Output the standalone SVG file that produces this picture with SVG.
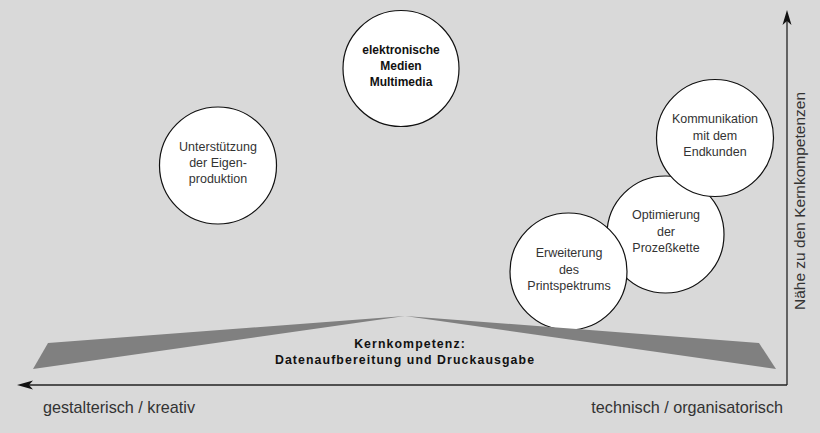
<svg xmlns="http://www.w3.org/2000/svg" width="820" height="433" viewBox="0 0 820 433">
<style>
.bg{fill:#d9d9d9}
.node{fill:#ffffff;stroke:#111111;stroke-width:1.2}
.t{font-family:"Liberation Sans",Arial,sans-serif;font-size:12.5px;fill:#333333;text-anchor:middle}
.tb{font-family:"Liberation Sans",Arial,sans-serif;font-size:12px;font-weight:bold;fill:#111111;text-anchor:middle}
.ax{font-family:"Liberation Sans",Arial,sans-serif;font-size:16.2px;fill:#333333}
.axv{font-family:"Liberation Sans",Arial,sans-serif;font-size:15.5px;fill:#333333}
.core{font-family:"Liberation Sans",Arial,sans-serif;font-size:12.3px;font-weight:bold;fill:#111111;text-anchor:middle;letter-spacing:1.1px}
.wedge{fill:#808080}
.axis{stroke:#222222;stroke-width:1.3;fill:none}
.head{fill:#111111}
</style>
<rect class="bg" x="0" y="0" width="820" height="433"/>
<g id="axes">
<line class="axis" x1="787" y1="385" x2="787" y2="18"/>
<line class="axis" x1="787" y1="385" x2="26" y2="385"/>
<polygon class="head" points="787,10 791.5,25 787,21 782.5,25"/>
<polygon class="head" points="17,385 33,380.5 29,385 33,389.5"/>
</g>
<g id="n-unterstuetzung">
<circle class="node" cx="218" cy="165.5" r="58.5"/>
<text class="t" x="218" y="151">Unterstützung</text>
<text class="t" x="218" y="167">der Eigen-</text>
<text class="t" x="218" y="183">produktion</text>
</g>
<g id="n-elektronische">
<circle class="node" cx="401" cy="68.5" r="58"/>
<text class="tb" x="401" y="54">elektronische</text>
<text class="tb" x="401" y="70">Medien</text>
<text class="tb" x="401" y="86">Multimedia</text>
</g>
<g id="n-optimierung">
<circle class="node" cx="665.5" cy="234.5" r="58.5"/>
<text class="t" x="666" y="219">Optimierung</text>
<text class="t" x="666" y="236">der</text>
<text class="t" x="666" y="252">Prozeßkette</text>
</g>
<g id="n-kommunikation">
<circle class="node" cx="715" cy="138" r="58.5"/>
<text class="t" x="715" y="123">Kommunikation</text>
<text class="t" x="715" y="140">mit dem</text>
<text class="t" x="715" y="156">Endkunden</text>
</g>
<g id="n-erweiterung">
<circle class="node" cx="568.5" cy="271.5" r="58.5"/>
<text class="t" x="569" y="257">Erweiterung</text>
<text class="t" x="569" y="274">des</text>
<text class="t" x="569" y="290">Printspektrums</text>
</g>
<g id="n-kernkompetenz">
<polygon class="wedge" points="405,316 48,343 33,369"/>
<polygon class="wedge" points="405,316 759,343 776,369"/>
<text class="core" x="410" y="348">Kernkompetenz:</text>
<text class="core" x="405" y="364">Datenaufbereitung und Druckausgabe</text>
</g>
<g id="labels">
<text class="ax" x="43" y="413">gestalterisch / kreativ</text>
<text class="ax" x="783" y="413" text-anchor="end">technisch / organisatorisch</text>
<text class="axv" transform="translate(805,201) rotate(-90)" text-anchor="middle">Nähe zu den Kernkompetenzen</text>
</g>
</svg>
